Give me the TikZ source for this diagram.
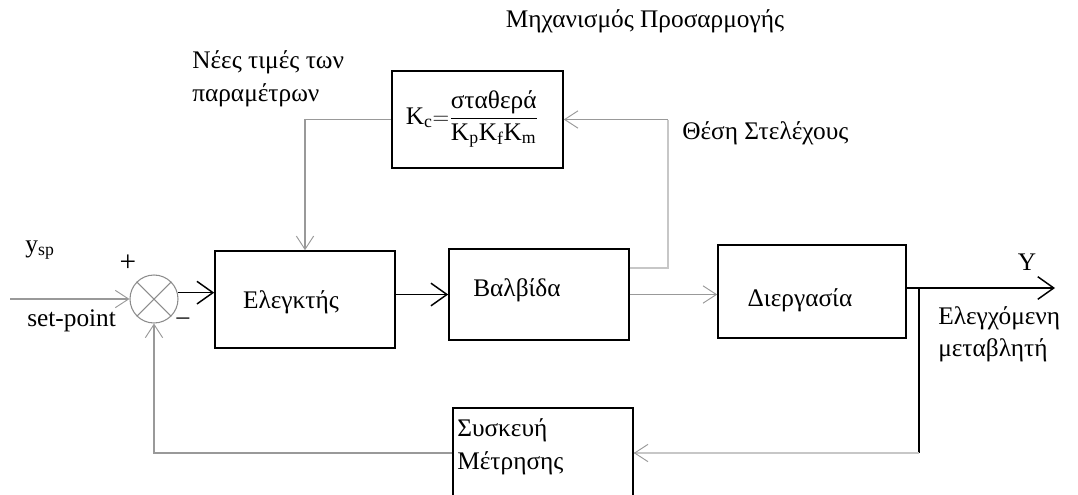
\documentclass[tikz,border=0pt]{standalone}
\usepackage{fontspec}
\setmainfont{Liberation Serif}
\usetikzlibrary{arrows.meta,calc}

\tikzset{
  blockbox/.style={draw=black, line width=1.2pt, inner sep=0pt},
  txt/.style={inner sep=0pt, text=black},
  bline/.style={draw=black, line width=1.1pt},
  gline/.style={draw=black!40, line width=0.9pt},
  lline/.style={draw=black!22, line width=1.4pt},
  bhead/.style={-{Straight Barb[length=12pt,width=17pt,line width=1.1pt]}},
  ghead/.style={-{Straight Barb[length=10pt,width=13pt,line width=0.7pt]}},
}

\begin{document}
\begin{tikzpicture}[x=0.75pt, y=-0.75pt, font=\fontsize{19}{23}\selectfont]
  \useasboundingbox (0,0) rectangle (1078,494);
  \clip (0,0) rectangle (1078,494);

  % blocks
  \node[blockbox, minimum width=135pt, minimum height=72.75pt] (ctrl) at (305,299.5) {};
  \node[blockbox, minimum width=135pt, minimum height=68.25pt] (valve) at (539,294.5) {};
  \node[blockbox, minimum width=141pt, minimum height=69.75pt] (proc) at (812,291.5) {};
  \node[blockbox, minimum width=128.25pt, minimum height=72.75pt] (kc) at (477.5,119.5) {};
  \node[blockbox, minimum width=135pt, minimum height=84pt] (meas) at (543,464) {};

  % summing junction
  \node[circle, draw=black!45, line width=0.8pt, minimum size=36pt, inner sep=0pt] (sum) at (154,299) {};
  \draw[draw=black!45, line width=0.8pt] (sum.45) -- (sum.225) (sum.135) -- (sum.315);

  % block texts
  \node[txt] (ctrltxt) at (291,302) {Ελεγκτής};
  \node[txt] (valvetxt) at (517,290) {Βαλβίδα};
  \node[txt] (proctxt) at (800,300) {Διεργασία};
  \node[txt] (kctxt) at (472,119) {$\displaystyle\mathrm{K_c}{=}\frac{\mbox{σταθερά}}{\mathrm{K_pK_fK_m}}$};
  \node[txt, anchor=west] (meas1) at (457,430) {Συσκευή};
  \node[txt, anchor=west] (meas2) at (457,463) {Μέτρησης};

  % free labels
  \node[txt] (title) at (645,21) {Μηχανισμός Προσαρμογής};
  \node[txt, anchor=west] (newv1) at (192,62) {Νέες τιμές των};
  \node[txt, anchor=west] (newv2) at (192,95) {παραμέτρων};
  \node[txt, anchor=west] (stem) at (682,133) {Θέση Στελέχους};
  \node[txt] (ysp) at (40,250) {y\textsubscript{sp}};
  \node[txt] (plus) at (128,263) {\fontsize{22}{24}\selectfont +};
  \node[txt] (minus) at (183,321) {\textendash};
  \node[txt, anchor=west] (setp) at (27,321) {set-point};
  \node[txt] (ylab) at (1027,262) {Y};
  \node[txt, anchor=west] (cv1) at (938,318) {Ελεγχόμενη};
  \node[txt, anchor=west] (cv2) at (938,350) {μεταβλητή};

  % helper points
  \coordinate (in) at (10,299);
  \coordinate (vout) at ($(valve.north east)!0.21!(valve.south east)$);
  \coordinate (fbc) at (668,119.5);
  \coordinate (out) at (1055,288);
  \coordinate (tap) at (919,288);
  \coordinate (tapdown) at (919,453);

  % forward path
  \draw[gline, ghead] (in) -- (sum.west);
  \draw[bline, bhead] (sum.15) -- (sum.15 -| ctrl.west);
  \draw[bline, bhead] (valve.west -| ctrl.east) -- (valve.west);
  \draw[gline, ghead] (valve.east) -- (valve.east -| proc.west);
  \draw[bline, bhead] (out -| proc.east) -- (out);

  % adaptation loop
  \draw[lline] (vout) -| (fbc);
  \draw[gline, ghead] (fbc) -- (kc.east);
  \draw[gline, ghead] (kc.west) -| (ctrl.north);

  % measurement feedback
  \draw[bline] (tap) -- (tapdown);
  \draw[lline] (tapdown) -- (tapdown -| meas.east);
  \draw[gline, ghead] ($(tapdown -| meas.east)+(1,0)$) -- (tapdown -| meas.east);
  \draw[gline, ghead] (tapdown -| meas.west) -| (sum.south);
\end{tikzpicture}
\end{document}
